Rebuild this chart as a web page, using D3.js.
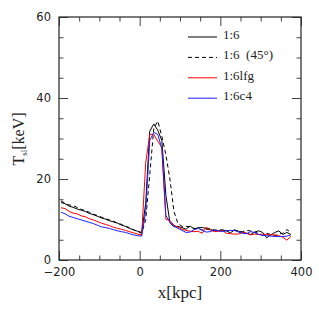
<!DOCTYPE html>
<html>
<head>
<meta charset="utf-8">
<script src="https://cdn.jsdelivr.net/npm/d3@7"></script>
<style>
  body { margin: 0; background: #fff; }
  svg { display: block; }
</style>
</head>
<body>
<svg id="svg" width="319" height="319"></svg>
<script>
// x positions of the profile samples (kpc)
var xs = [-195,-185,-175,-165,-155,-145,-135,-125,-115,-105,-95,-85,-75,-65,-55,-45,-35,-25,-15,-5,
  5,15,25,35,45,55,65,75,85,95,105,115,125,135,145,155,165,175,185,195,205,215,225,235,245,255,
  265,275,285,295,305,315,325,335,345,355,365,375];

// T_sl [keV] for each run
var t16 = [14.2,13.9,13.3,13.0,12.6,12.3,12.0,11.5,11.2,10.8,10.4,10.1,9.7,9.4,9.1,8.6,8.3,7.8,7.4,7.1,
  6.8,14.0,31.8,33.6,32.0,29.5,16.0,9.2,8.2,8.3,8.0,7.6,8.4,7.6,8.0,8.0,7.8,7.5,7.3,7.2,7.4,7.2,
  6.7,7.4,7.1,6.8,6.6,6.3,6.9,7.2,6.8,5.5,6.2,6.8,7.2,6.3,6.8,6.3];
var t16_45 = [14.6,14.0,13.6,13.4,13.0,12.5,12.2,11.8,11.3,11.0,10.6,10.2,9.9,9.6,9.1,8.8,8.3,8.0,7.5,7.0,
  6.6,10.0,21.0,32.5,34.3,30.5,26.0,20.0,12.0,9.0,8.3,8.3,8.2,7.8,7.8,7.4,7.5,7.8,7.4,7.4,7.4,7.2,
  7.3,7.4,7.1,7.0,7.3,7.2,6.8,6.6,6.0,6.6,6.3,6.0,6.4,6.6,7.5,6.8];
var t16lfg = [12.9,12.7,12.0,11.6,11.4,10.9,10.7,10.2,9.9,9.5,9.1,8.8,8.5,8.1,7.8,7.6,7.3,7.0,6.7,6.4,
  6.2,24.0,31.0,31.0,29.3,27.8,10.0,9.8,8.6,8.1,7.6,7.3,7.1,7.0,7.1,6.6,8.1,7.4,7.0,7.1,7.3,6.6,
  6.5,6.4,6.4,6.8,6.6,6.2,6.4,6.3,6.4,6.3,6.2,6.2,6.0,5.6,4.9,5.8];
var t16c4 = [11.8,11.4,10.8,10.5,10.2,9.9,9.6,9.3,9.0,8.6,8.2,8.0,7.8,7.5,7.2,7.0,6.8,6.5,6.2,6.0,
  5.9,12.0,29.5,31.5,31.0,27.5,11.0,9.3,8.4,7.8,7.3,6.8,6.9,7.5,7.8,7.3,6.9,7.0,7.4,7.2,7.0,7.2,
  7.3,7.3,6.9,6.6,6.5,7.0,6.8,6.3,6.1,6.0,5.9,5.8,5.8,5.8,5.9,6.2];

var xMajor = [-200, 0, 200, 400];
var xMinor = [-150, -100, -50, 50, 100, 150, 250, 300, 350];
var yMajor = [0, 20, 40, 60];
var yMinor = [5, 10, 15, 25, 30, 35, 45, 50, 55];

var series = [
  {name: "1:6", values: t16, color: "#000", dash: null},
  {name: "1:6  (45\u00b0)", values: t16_45, color: "#000", dash: "4,3"},
  {name: "1:6lfg", values: t16lfg, color: "#ff0000", dash: null},
  {name: "1:6c4", values: t16c4, color: "#1f1fff", dash: null}
];

const svg = d3.select('#svg');
var pLeft = 59, pRight = 301, pTop = 17, pBottom = 260;

var x = d3.scaleLinear().domain([-200, 400]).range([pLeft, pRight]);
var y = d3.scaleLinear().domain([0, 60]).range([pBottom, pTop]);

var axisColor = "#444";
var numFont = "DejaVu Sans";

function styleAxis(g) {
  g.select(".domain").remove();
  g.selectAll("line").attr("stroke", axisColor);
  g.selectAll("text").attr("font-family", numFont).attr("font-size", "11.5px").attr("fill", "#222");
}

// bottom
svg.append("g").attr("transform", "translate(0," + pBottom + ")")
  .call(d3.axisBottom(x).tickValues(xMajor).tickSize(-9).tickPadding(8)
    .tickFormat(function(d){ return d < 0 ? "\u2212" + (-d) : d; }))
  .call(styleAxis);
svg.append("g").attr("transform", "translate(0," + pBottom + ")")
  .call(d3.axisBottom(x).tickValues(xMinor).tickSize(-4.5).tickFormat(""))
  .call(styleAxis);
// top
svg.append("g").attr("transform", "translate(0," + pTop + ")")
  .call(d3.axisTop(x).tickValues(xMajor).tickSize(-9).tickFormat(""))
  .call(styleAxis);
svg.append("g").attr("transform", "translate(0," + pTop + ")")
  .call(d3.axisTop(x).tickValues(xMinor).tickSize(-4.5).tickFormat(""))
  .call(styleAxis);
// left
svg.append("g").attr("transform", "translate(" + pLeft + ",0)")
  .call(d3.axisLeft(y).tickValues(yMajor).tickSize(-9).tickPadding(8))
  .call(styleAxis);
svg.append("g").attr("transform", "translate(" + pLeft + ",0)")
  .call(d3.axisLeft(y).tickValues(yMinor).tickSize(-4.5).tickFormat(""))
  .call(styleAxis);
// right
svg.append("g").attr("transform", "translate(" + pRight + ",0)")
  .call(d3.axisRight(y).tickValues(yMajor).tickSize(-9).tickFormat(""))
  .call(styleAxis);
svg.append("g").attr("transform", "translate(" + pRight + ",0)")
  .call(d3.axisRight(y).tickValues(yMinor).tickSize(-4.5).tickFormat(""))
  .call(styleAxis);

// frame
svg.append("rect")
  .attr("x", pLeft).attr("y", pTop)
  .attr("width", pRight - pLeft).attr("height", pBottom - pTop)
  .attr("fill", "none").attr("stroke", "#222").attr("stroke-width", 1.2);

// curves
var line = d3.line()
  .x(function(d, i){ return x(xs[i]); })
  .y(function(d){ return y(d); });

series.forEach(function(s){
  svg.append("path")
    .datum(s.values)
    .attr("d", line)
    .attr("fill", "none")
    .attr("stroke", s.color)
    .attr("stroke-width", 1)
    .attr("stroke-dasharray", s.dash);
});

// legend
var leg = svg.append("g");
series.forEach(function(s, i){
  var ly = 37 + i * 20.4;
  leg.append("line")
    .attr("x1", 188).attr("x2", 217).attr("y1", ly).attr("y2", ly)
    .attr("stroke", s.color).attr("stroke-width", 1)
    .attr("stroke-dasharray", s.dash);
  leg.append("text")
    .attr("x", 223).attr("y", ly + 2)
    .attr("font-family", "Liberation Serif").attr("font-size", "13px")
    .attr("fill", "#222")
    .style("white-space", "pre")
    .text(s.name);
});

// axis titles
svg.append("text")
  .attr("x", (pLeft + pRight) / 2).attr("y", 298)
  .attr("text-anchor", "middle")
  .attr("font-family", "Liberation Serif").attr("font-size", "17px")
  .attr("fill", "#222")
  .text("x[kpc]");

var yl = svg.append("text")
  .attr("transform", "translate(24,139) rotate(-90)")
  .attr("text-anchor", "middle")
  .attr("font-family", "Liberation Serif").attr("font-size", "16px")
  .attr("fill", "#222");
yl.append("tspan").text("T");
yl.append("tspan").attr("font-size", "9px").attr("dy", 3).text("sl");
yl.append("tspan").attr("dy", -3).text("[keV]");
</script>
</body>
</html>
